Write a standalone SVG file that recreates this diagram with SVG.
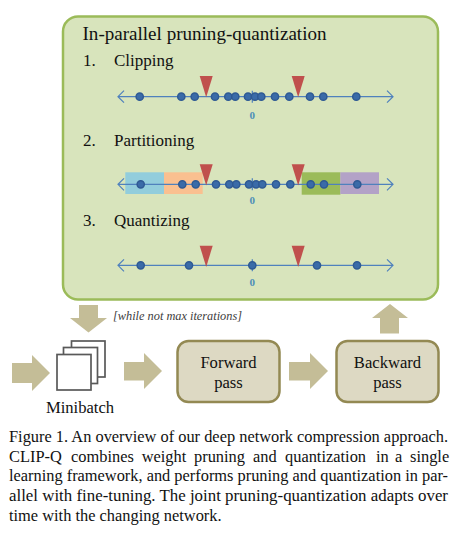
<svg xmlns="http://www.w3.org/2000/svg" width="458" height="534" viewBox="0 0 458 534">
<style>
text{font-family:"Liberation Serif","Times New Roman",serif;fill:#111}
.h{font-size:19.500px}.s{font-size:17px}.n{font-size:16.600px;text-anchor:middle}
.c{font-size:16.400px}
.z{font-size:11px;font-weight:bold;fill:#4f8fb8;text-anchor:middle}
.ax{stroke:#4f81bd;stroke-width:1.2;fill:none}
.d{fill:#3a6ba8;stroke:#2f5a94;stroke-width:1.5}
.t{fill:#c0504d}
.ar{fill:#c4bd97}
.b{fill:#ddd9c3;stroke:#938953;stroke-width:2.5}
.sq{fill:#fff;stroke:#595959;stroke-width:1.7}
</style>
<defs>
<g id="axis"><path class="ax" d="M118 0H393M124 -6L118 0L124 6M387 -6L393 0L387 6M252.300 -6V6"/></g>
<circle id="dot" class="d" r="3.6"/>
<path id="tri" class="t" d="M0 0H13L6.500 21.300Z"/>
</defs>
<rect width="458" height="534" fill="#fff"/>
<g id="panel">
<rect x="63" y="16.500" width="375" height="283" rx="15" fill="#d8e4bc" stroke="#9bbb59" stroke-width="2.500"/>
<text class="h" x="82.500" y="39.500" textLength="244" lengthAdjust="spacingAndGlyphs">In-parallel pruning-quantization</text>
</g>
<g id="step1">
<text class="s" x="83" y="66">1.</text><text class="s" x="114" y="66">Clipping</text>
<use href="#axis" y="96.700"/>
<g transform="translate(0,96.700)">
<use href="#dot" x="139.700"/><use href="#dot" x="181.300"/><use href="#dot" x="194.700"/><use href="#dot" x="215"/><use href="#dot" x="228.300"/><use href="#dot" x="235.300"/><use href="#dot" x="248"/><use href="#dot" x="255"/><use href="#dot" x="261.300"/><use href="#dot" x="275"/><use href="#dot" x="289.300"/><use href="#dot" x="310"/><use href="#dot" x="323.300"/><use href="#dot" x="356.300"/>
</g>
<use href="#tri" x="199.700" y="76"/><use href="#tri" x="291.700" y="76"/>
<text class="z" x="252.300" y="118.500">0</text>
</g>
<g id="step2">
<text class="s" x="83" y="146">2.</text><text class="s" x="114" y="146">Partitioning</text>
<rect x="125.300" y="172.300" width="38.700" height="21.700" fill="#92cddc"/>
<rect x="164" y="172.300" width="38.700" height="21.700" fill="#fac090"/>
<rect x="301.700" y="172.300" width="38.700" height="22.400" fill="#9bbb59"/>
<rect x="340.300" y="172.300" width="38.700" height="21.700" fill="#b3a2c7"/>
<use href="#axis" y="184.300"/>
<g transform="translate(0,184.300)">
<use href="#dot" x="140.700"/><use href="#dot" x="182.300"/><use href="#dot" x="195.700"/><use href="#dot" x="216"/><use href="#dot" x="229.300"/><use href="#dot" x="236.300"/><use href="#dot" x="249"/><use href="#dot" x="256"/><use href="#dot" x="262.300"/><use href="#dot" x="276"/><use href="#dot" x="290.300"/><use href="#dot" x="310.700"/><use href="#dot" x="324"/><use href="#dot" x="357.300"/>
</g>
<use href="#tri" x="199.700" y="164.300"/><use href="#tri" x="291.700" y="164.300"/>
<text class="z" x="252.300" y="204">0</text>
</g>
<g id="step3">
<text class="s" x="83" y="226">3.</text><text class="s" x="114" y="226">Quantizing</text>
<use href="#axis" y="265.300"/>
<g transform="translate(0,265.300)">
<use href="#dot" x="140.700"/><use href="#dot" x="189"/><use href="#dot" x="252.300"/><use href="#dot" x="317"/><use href="#dot" x="357"/>
</g>
<use href="#tri" x="199.700" y="245.700"/><use href="#tri" x="291.700" y="245.700"/>
<text class="z" x="252.300" y="286">0</text>
</g>
<g id="connectors">
<path class="ar" d="M79 305H98V318H107L88.500 332.500L70 318H79Z"/>
<path class="ar" d="M12 363H32V355L50 373L32 391V383H12Z"/>
<path class="ar" d="M124 362H144V353L162 371L144 389V380.500H124Z"/>
<path class="ar" d="M289 362H310V353L328 371L310 389V380.500H289Z"/>
<path class="ar" d="M380 333.500H399V318H408L390 304L372 318H380Z"/>
<text x="113" y="320" font-size="12.500" font-style="italic" style="fill:#404040" textLength="129" lengthAdjust="spacingAndGlyphs">[while not max iterations]</text>
</g>
<g id="minibatch">
<rect class="sq" x="71.500" y="341" width="33.500" height="36"/>
<rect class="sq" x="63.500" y="347.500" width="34" height="36"/>
<rect class="sq" x="57" y="354.500" width="34" height="35.500"/>
<text class="n" x="80" y="413">Minibatch</text>
</g>
<g id="forward">
<rect class="b" x="177.500" y="341" width="102" height="61" rx="11"/>
<text class="n" x="228.500" y="367.500">Forward</text><text class="n" x="228.500" y="388">pass</text>
</g>
<g id="backward">
<rect class="b" x="336.500" y="341" width="102" height="61" rx="11"/>
<text class="n" x="387.500" y="367.500">Backward</text><text class="n" x="387.500" y="388">pass</text>
</g>
<g id="caption">
<text class="c" x="9" y="441.500" textLength="439" lengthAdjust="spacingAndGlyphs">Figure 1. An overview of our deep network compression approach.</text>
<text class="c" y="461.500"><tspan x="9">CLIP-Q</tspan><tspan x="71">combines</tspan><tspan x="141.700">weight</tspan><tspan x="194">pruning</tspan><tspan x="253">and</tspan><tspan x="285">quantization</tspan><tspan x="376">in</tspan><tspan x="395">a</tspan><tspan x="410">single</tspan></text>
<text class="c" x="9" y="481" textLength="439" lengthAdjust="spacingAndGlyphs">learning framework, and performs pruning and quantization in par-</text>
<text class="c" x="9" y="501" textLength="439" lengthAdjust="spacingAndGlyphs">allel with fine-tuning.  The joint pruning-quantization adapts over</text>
<text class="c" x="9" y="520.500">time with the changing network.</text>
</g>
</svg>
